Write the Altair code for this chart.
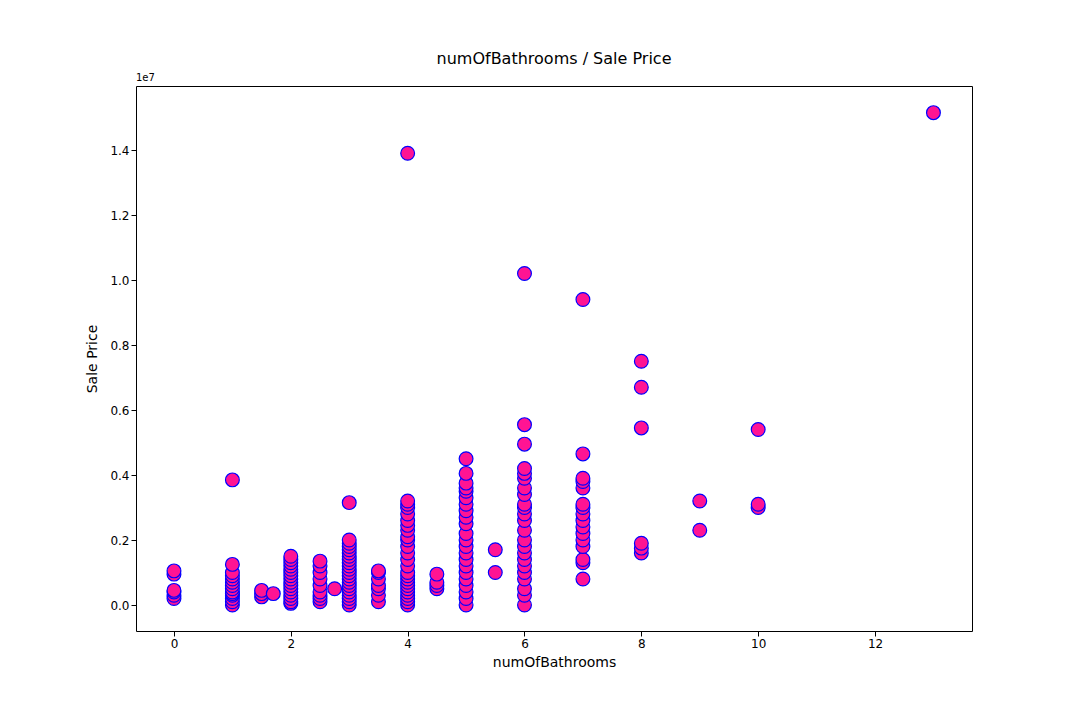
import pandas as pd
import altair as alt

# sale prices in millions, grouped by number of bathrooms
baths = [0, 1, 1.5, 1.7, 2, 2.5, 2.75, 3, 3.5, 4, 4.5, 5, 5.5, 6, 7, 8, 9, 10, 13]
prices = [
    [0.2, 0.3, 0.4, 0.45, 0.95, 1.05],
    [0.0, 0.1, 0.2, 0.3, 0.35, 0.4, 0.5, 0.6, 0.7, 0.8, 0.9, 1.0, 1.25, 3.85],
    [0.25, 0.35, 0.45],
    [0.35],
    [0.05, 0.1, 0.2, 0.3, 0.4, 0.5, 0.6, 0.7, 0.8, 0.9, 1.0, 1.1, 1.2, 1.3, 1.4, 1.5],
    [0.1, 0.2, 0.3, 0.4, 0.6, 0.8, 1.0, 1.2, 1.35],
    [0.5],
    [0.0, 0.1, 0.2, 0.3, 0.4, 0.5, 0.6, 0.7, 0.8, 0.9, 1.0, 1.1, 1.2, 1.3, 1.4, 1.5,
     1.6, 1.7, 1.8, 1.9, 2.0, 3.15],
    [0.1, 0.3, 0.5, 0.6, 0.8, 1.0, 1.05],
    [0.0, 0.1, 0.2, 0.3, 0.4, 0.5, 0.6, 0.7, 0.8, 0.9, 1.0, 1.2, 1.4, 1.6, 1.8, 2.0,
     2.1, 2.3, 2.45, 2.6, 2.8, 3.0, 3.1, 3.2, 13.9],
    [0.5, 0.6, 0.7, 0.95],
    [0.0, 0.2, 0.4, 0.6, 0.8, 1.0, 1.2, 1.4, 1.6, 1.8, 2.0, 2.2, 2.5, 2.7, 2.9, 3.1,
     3.3, 3.5, 3.6, 3.75, 4.05, 4.5],
    [1.0, 1.7],
    [0.0, 0.3, 0.5, 0.8, 1.0, 1.2, 1.4, 1.6, 1.8, 2.0, 2.3, 2.6, 2.8, 3.0, 3.1, 3.4,
     3.6, 3.9, 4.05, 4.2, 4.95, 5.55, 10.2],
    [0.8, 1.3, 1.4, 1.8, 2.0, 2.2, 2.4, 2.6, 2.8, 3.0, 3.1, 3.6, 3.8, 3.9, 4.65, 9.4],
    [1.6, 1.75, 1.9, 5.45, 6.7, 7.5],
    [2.3, 3.2],
    [3.0, 3.1, 5.4],
    [15.15],
]

rows = [{"numOfBathrooms": b, "price": p / 10} for b, ps in zip(baths, prices) for p in ps]
df = pd.DataFrame(rows)

font = "DejaVu Sans"

points = (
    alt.Chart(df)
    .mark_point(filled=True, size=190, fill="#ff1493", stroke="blue", strokeWidth=1.2, opacity=1)
    .encode(
        x=alt.X("numOfBathrooms:Q", title="numOfBathrooms",
                scale=alt.Scale(domain=[-0.65, 13.66], nice=False, zero=False),
                axis=alt.Axis(values=[0, 2, 4, 6, 8, 10, 12], format="d", grid=False)),
        y=alt.Y("price:Q", title="Sale Price",
                scale=alt.Scale(domain=[-0.08, 1.597], nice=False, zero=False),
                axis=alt.Axis(values=[0, 0.2, 0.4, 0.6, 0.8, 1.0, 1.2, 1.4], format=".1f", grid=False)),
    )
)

exp = alt.Chart(pd.DataFrame({"t": ["1e7"]})).mark_text(
    align="left", baseline="bottom", fontSize=10, font=font, color="black"
).encode(text="t:N", x=alt.value(0), y=alt.value(-3))

chart = (
    alt.layer(points, exp)
    .properties(
        width=836, height=545,
        title=alt.TitleParams("numOfBathrooms / Sale Price", fontSize=16, fontWeight="normal", font=font, offset=6),
        autosize=alt.AutoSizeParams(type="none"),
        padding={"left": 128, "top": 78, "right": 100, "bottom": 81},
    )
    .configure_view(stroke="black", strokeWidth=1)
    .configure_axis(
        labelFont=font, titleFont=font, labelFontSize=12, titleFontSize=14,
        titleFontWeight="normal", labelColor="black", titleColor="black",
        domain=False, tickColor="black", tickSize=5,
    )
    .configure_axisX(titlePadding=6)
    .configure_axisY(titlePadding=10)
)

chart.save("out.html", embed_options={"renderer": "svg", "actions": False})
